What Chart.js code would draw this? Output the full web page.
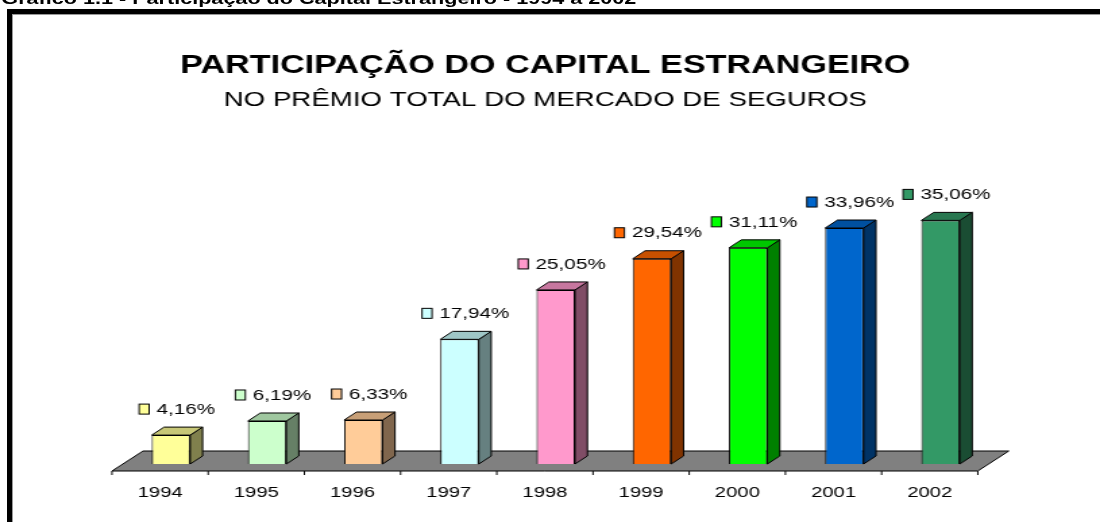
<!DOCTYPE html>
<html><head><meta charset="utf-8">
<script src="https://cdn.jsdelivr.net/npm/chart.js@4.4.1/dist/chart.umd.min.js"></script>
<style>
html,body{margin:0;padding:0;background:#fff;width:1100px;height:522px;overflow:hidden;position:relative;}
#frame{position:absolute;left:7px;top:9px;width:1100px;height:600px;border-top:5px solid #000;border-left:5px solid #000;}
#frameIn{position:absolute;left:0;top:0;width:100%;height:100%;border-top:1px solid #999;border-left:1px solid #999;}
#wrap{position:absolute;left:0;top:0;width:815px;height:522px;transform:scaleX(1.34969);transform-origin:0 0;}
#caption{position:absolute;left:1px;top:-9px;font:bold 16px "Liberation Sans",Arial,sans-serif;line-height:16px;white-space:nowrap;color:#000;}
canvas{position:absolute;left:0;top:0;}
</style></head>
<body>
<div id="frame"><div id="frameIn"></div></div>
<div id="wrap"><div id="caption">Gráfico 1.1 - Participação do Capital Estrangeiro - 1994 a 2002</div><canvas id="c" width="815" height="522"></canvas></div>
<script>
const years = ['1994','1995','1996','1997','1998','1999','2000','2001','2002'];
const shares = [4.16, 6.19, 6.33, 17.94, 25.05, 29.54, 31.11, 33.96, 35.06];
const shareLabels = ['4,16%','6,19%','6,33%','17,94%','25,05%','29,54%','31,11%','33,96%','35,06%'];
const barColors = ['#FFFF99','#CCFFCC','#FFCC99','#CCFFFF','#FF99CC','#FF6600','#00FF00','#0066CC','#339966'];
const titleText = 'PARTICIPAÇÃO DO CAPITAL ESTRANGEIRO';
const subtitleText = 'NO PRÊMIO TOTAL DO MERCADO DE SEGUROS';

const FAMILY = '"Liberation Sans", Arial, sans-serif';
const DEPTH_Y = 8, FLOOR_FRONT = 7, FLOOR_BACK = 13, SLOPE = 1.15;

function shade(hex, f){
  const n = parseInt(hex.slice(1),16);
  const r = Math.round(((n>>16)&255)*f), g = Math.round(((n>>8)&255)*f), b = Math.round((n&255)*f);
  return 'rgb('+r+','+g+','+b+')';
}

const threeD = {
  id:'threeD',
  beforeDatasetsDraw(chart){
    const ctx = chart.ctx, xs = chart.scales.x, ys = chart.scales.y;
    const y0 = ys.getPixelForValue(0);
    const l = xs.left, r = xs.right;
    const fy = y0 + FLOOR_FRONT, by = y0 - FLOOR_BACK;
    const fdx = -FLOOR_FRONT*SLOPE, bdx = FLOOR_BACK*SLOPE;
    ctx.save();
    ctx.lineWidth = 1; ctx.strokeStyle = '#000';
    ctx.beginPath();
    ctx.moveTo(l+fdx, fy); ctx.lineTo(r+fdx, fy); ctx.lineTo(r+bdx, by); ctx.lineTo(l+bdx, by); ctx.closePath();
    ctx.fillStyle = '#808080'; ctx.fill(); ctx.stroke();
    const n = years.length;
    const cw = (xs.getPixelForValue(n-1) - xs.getPixelForValue(0)) / (n-1);
    ctx.beginPath();
    for (let i=0;i<=n;i++){
      const x = xs.getPixelForValue(0) - cw/2 + i*cw + fdx;
      ctx.moveTo(x, fy); ctx.lineTo(x, fy+4);
    }
    ctx.stroke();
    ctx.restore();
  },
  afterDatasetsDraw(chart){
    const ctx = chart.ctx;
    const meta = chart.getDatasetMeta(0);
    const dx = DEPTH_Y*SLOPE, dy = DEPTH_Y;
    ctx.save();
    ctx.lineWidth = 1; ctx.strokeStyle = '#000'; ctx.lineJoin = 'miter';
    meta.data.forEach((bar, i) => {
      const p = bar.getProps(['x','y','base','width'], true);
      const L = p.x - p.width/2, R = p.x + p.width/2, T = p.y, B = p.base;
      ctx.beginPath();
      ctx.moveTo(R, T); ctx.lineTo(R+dx, T-dy); ctx.lineTo(R+dx, B-dy); ctx.lineTo(R, B); ctx.closePath();
      ctx.fillStyle = shade(barColors[i], 0.5); ctx.fill(); ctx.stroke();
      ctx.beginPath();
      ctx.moveTo(L, T); ctx.lineTo(L+dx, T-dy); ctx.lineTo(R+dx, T-dy); ctx.lineTo(R, T); ctx.closePath();
      ctx.fillStyle = shade(barColors[i], 0.78); ctx.fill(); ctx.stroke();
      ctx.font = '15.3px ' + FAMILY;
      const txt = shareLabels[i];
      const tw = ctx.measureText(txt).width;
      const sq = 7.4, gap = 5.5;
      const total = sq + gap + tw;
      const cx = p.x + dx/2;
      const cy = T - 26;
      const sx = cx - total/2;
      ctx.fillStyle = barColors[i];
      ctx.fillRect(sx, cy-5, sq, 10);
      ctx.strokeRect(sx, cy-5, sq, 10);
      ctx.fillStyle = '#000';
      ctx.textBaseline = 'middle'; ctx.textAlign = 'left';
      ctx.fillText(txt, sx + sq + gap, cy + 0.5);
    });
    ctx.restore();
  }
};

new Chart(document.getElementById('c'), {
  type:'bar',
  data:{labels: years, datasets:[{data: shares, backgroundColor: barColors, borderColor:'#000', borderWidth:1, barPercentage:0.4, categoryPercentage:1}]},
  options:{
    responsive:false, animation:false, devicePixelRatio:1,
    layout:{padding:{left:75.5, right:82.5, top:0, bottom:18}},
    plugins:{
      legend:{display:false}, tooltip:{enabled:false},
      title:{display:true, text:titleText, color:'#000', font:{family:FAMILY, size:25.3, weight:'bold', lineHeight:1.2}, padding:{top:50.5, bottom:0}},
      subtitle:{display:true, text:subtitleText, color:'#000', font:{family:FAMILY, size:20.5, weight:'normal', lineHeight:1.2}, padding:{top:7.3, bottom:73.3}}
    },
    scales:{
      x:{grid:{display:false, drawTicks:false}, border:{display:false},
         ticks:{color:'#000', font:{family:FAMILY, size:15}, padding:20, labelOffset:-8, maxRotation:0, autoSkip:false},
         afterFit(s){ s.height = 40; }},
      y:{min:0, max:40, grid:{display:false, drawTicks:false}, border:{display:false}, ticks:{display:false},
         afterFit(s){ s.width = 15.5; }}
    }
  },
  plugins:[threeD]
});
</script>
</body></html>
